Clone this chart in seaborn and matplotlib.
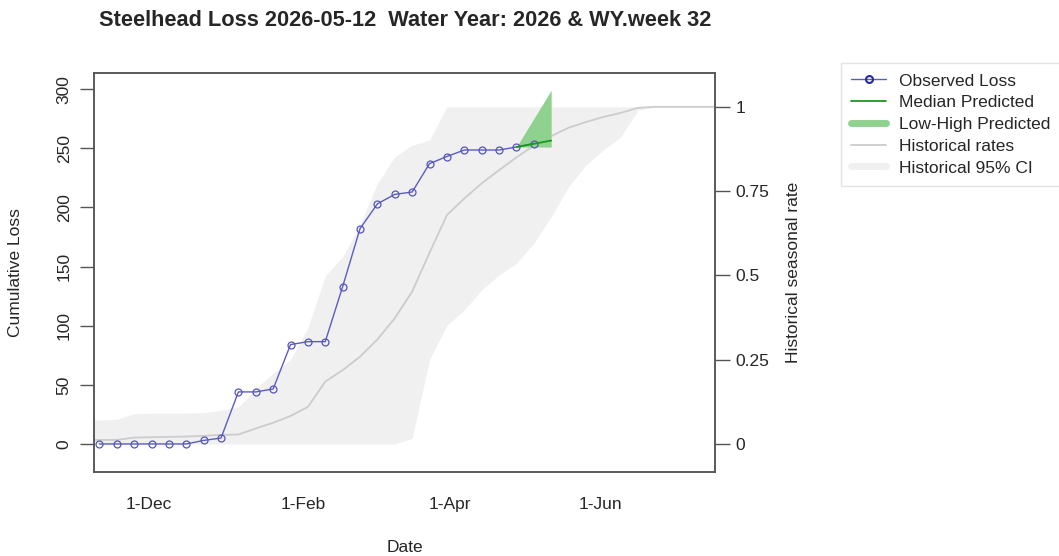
import pandas as pd
import matplotlib.pyplot as plt
import matplotlib.dates as mdates
from matplotlib.lines import Line2D
import seaborn as sns
import numpy as np

# weekly observed cumulative loss
obs_dates = pd.date_range('2025-11-11', periods=26, freq='7D')
obs_loss = [0, 0, 0, 0, 0, 0, 3, 5, 44, 44, 46.5, 84, 86.5, 86.5, 133, 182,
            203, 211, 213, 237, 243, 248.5, 248.5, 248.5, 251, 254]

# prediction for the current week
pred_dates = pd.to_datetime(['2026-04-28', '2026-05-12'])
pred_median = [251, 256.5]
pred_low = [251, 251]
pred_high = [251, 299]

# historical seasonal rates (right axis)
hist_dates = pd.date_range('2025-11-04', periods=38, freq='7D')
hist_rate = [0.012, 0.012, 0.012, 0.019, 0.020, 0.021, 0.022, 0.024, 0.027, 0.028,
             0.046, 0.063, 0.083, 0.110, 0.185, 0.219, 0.259, 0.310, 0.373, 0.452,
             0.567, 0.679, 0.728, 0.773, 0.812, 0.850, 0.885, 0.913, 0.938, 0.955,
             0.970, 0.982, 0.997, 1.0, 1.0, 1.0, 1.0, 1.0]
hist_hi = [0.071, 0.071, 0.073, 0.090, 0.091, 0.091, 0.092, 0.093, 0.100, 0.110,
           0.163, 0.210, 0.250, 0.345, 0.498, 0.555, 0.650, 0.773, 0.852, 0.886,
           0.901] + [1.0] * 17
hist_lo = [0.0] * 19 + [0.017, 0.250, 0.352, 0.397, 0.457, 0.501, 0.536, 0.595,
                        0.674, 0.763, 0.827, 0.872, 0.911, 0.990, 1.0, 1.0, 1.0,
                        1.0, 1.0]

scale = 285  # left-axis value that lines up with rate 1

sns.set_style('white')
plt.rcParams['font.family'] = ['Liberation Sans', 'DejaVu Sans']
plt.rcParams['font.size'] = 12.5

fig = plt.figure(figsize=(10.59, 5.56), dpi=100)
ax = fig.add_axes([94/1059, 1 - 472/556, (715 - 94)/1059, (472 - 73)/556])
ax2 = ax.twinx()

# historical stuff on the right axis
ax2.fill_between(hist_dates, hist_lo, hist_hi, color='#f0f0f0', lw=0)
sns.lineplot(x=hist_dates, y=hist_rate, ax=ax2, color='#cccccc', lw=1.3)

# observed + predicted on the left axis
ax.fill_between(pred_dates, pred_low, pred_high, color='#8fd18f', lw=0)
sns.lineplot(x=obs_dates, y=obs_loss, ax=ax, color='#5c5cc4', lw=1,
             marker='o', markersize=5, markerfacecolor='none',
             markeredgecolor='#5555bb', markeredgewidth=0.9)
sns.lineplot(x=pred_dates, y=pred_median, ax=ax, color='#1a9a1a', lw=1.3)

ax.set_zorder(ax2.get_zorder() + 1)
ax.patch.set_visible(False)

ylo, yhi = -23.7, 313.6
ax.set_ylim(ylo, yhi)
ax2.set_ylim(ylo/scale, yhi/scale)
ax.set_xlim(pd.Timestamp('2025-11-08 20:00'), pd.Timestamp('2026-07-17'))

ax.set_yticks(range(0, 301, 50))
ax.set_yticklabels([str(v) for v in range(0, 301, 50)], rotation=90, va='center')
ax2.set_yticks([0, 0.25, 0.5, 0.75, 1])
ax2.set_yticklabels(['0', '0.25', '0.5', '0.75', '1'])
ticks = pd.to_datetime(['2025-12-01', '2026-02-01', '2026-04-01', '2026-06-01'])
ax.set_xticks(ticks)
ax.set_xticklabels(['1-Dec', '1-Feb', '1-Apr', '1-Jun'])

for a in (ax, ax2):
    for s in a.spines.values():
        s.set_color('#555555')
        s.set_linewidth(1.1)
ax.tick_params(axis='both', direction='out', length=10, width=1, color='#555555')
ax.tick_params(axis='y', pad=6)
ax.tick_params(axis='x', pad=8)
ax2.tick_params(axis='y', direction='out', length=11, width=1, color='#555555', pad=4)

ax.set_xlabel('Date', labelpad=20)
ax.set_ylabel('Cumulative Loss', labelpad=24)
ax2.set_ylabel('Historical seasonal rate', labelpad=12)

fig.text(405/1059, 1 - 20/556, 'Steelhead Loss 2026-05-12  Water Year: 2026 & WY.week 32',
         ha='center', va='center', fontsize=15.7, fontweight='bold')

handles = [
    Line2D([], [], color='#5c5cc4', lw=1, marker='o', markersize=5,
           markerfacecolor='none', markeredgecolor='#2a2aa0', markeredgewidth=1.5),
    Line2D([], [], color='#1a9a1a', lw=1.3),
    Line2D([], [], color='#8fd18f', lw=5),
    Line2D([], [], color='#cccccc', lw=1.3),
    Line2D([], [], color='#f0f0f0', lw=5),
]
labels = ['Observed Loss', 'Median Predicted', 'Low-High Predicted',
          'Historical rates', 'Historical 95% CI']
leg = fig.legend(handles, labels, loc='upper left',
                 bbox_to_anchor=(841/1059, 1 - 63/556), frameon=True,
                 fancybox=False, edgecolor='#dddddd', handlelength=2.0,
                 handletextpad=0.75, labelspacing=0.38, borderpad=0.6,
                 borderaxespad=0)
leg.get_frame().set_linewidth(1)

plt.savefig('out.png', dpi=100)
